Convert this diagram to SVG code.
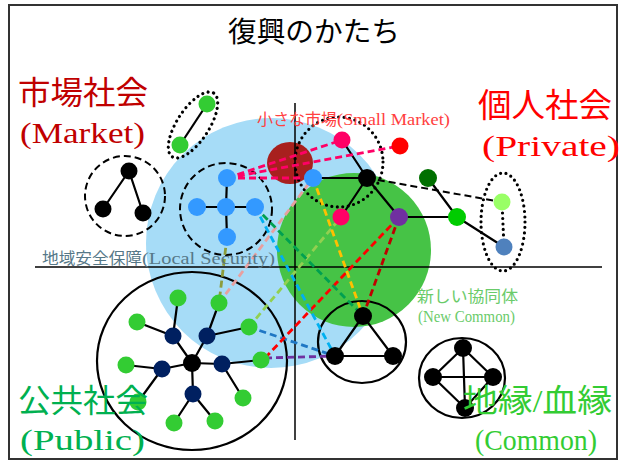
<svg xmlns="http://www.w3.org/2000/svg" width="622" height="461" viewBox="0 0 622 461">
<style>
.edge{stroke:#000;stroke-width:2.2;fill:none}
.dot{stroke:#000;stroke-width:3.2;fill:none;stroke-dasharray:0 5.5;stroke-linecap:round}
.dash{stroke:#000;stroke-width:2;fill:none;stroke-dasharray:7 4}
.ring{stroke:#000;stroke-width:2.2;fill:none}
.cd{stroke-width:2.8;fill:none;stroke-dasharray:7 4}
.jp{font-family:"Liberation Serif","Noto Sans CJK JP",serif}
.lm{font-family:"Liberation Serif","Noto Sans CJK JP",serif}
.js{font-family:"Noto Sans CJK JP","Liberation Sans",sans-serif}
</style>
<rect x="9" y="5" width="608" height="454" fill="#fff" stroke="#333" stroke-width="2"/>
<g id="areas">
<circle cx="271" cy="243" r="125" fill="#a6dcf7"/>
<circle cx="354" cy="250" r="77" fill="#46c346"/>
<ellipse cx="290" cy="163" rx="23" ry="21" fill="#a8201e"/>
</g>
<g id="axes">
<line x1="295" y1="103" x2="295" y2="440" stroke="#000" stroke-width="1.5"/>
<line x1="35" y1="267" x2="602" y2="267" stroke="#000" stroke-width="1.5"/>
</g>
<g id="outlines">
<ellipse cx="193" cy="125" rx="38" ry="16" transform="rotate(-57 193 125)" class="dot"/>
<circle cx="125" cy="196" r="40" class="dash"/>
<circle cx="226" cy="209" r="46" class="dash"/>
<ellipse cx="339" cy="162" rx="44" ry="45" class="dot"/>
<ellipse cx="503" cy="222" rx="22" ry="49" class="dot"/>
<ellipse cx="192" cy="361" rx="95" ry="89" class="ring"/>
<ellipse cx="362" cy="342" rx="44" ry="41" class="ring"/>
<ellipse cx="462" cy="378" rx="43" ry="40" class="ring"/>
</g>
<g id="connectors">
<path class="edge" d="M129 171L103 209M129 171L143 213"/>
<path class="edge" d="M180 145L207 104"/>
<path class="edge" d="M226 207L227 178M226 207L197 207M226 207L255 207M226 207L227 237"/>
<path class="edge" d="M342 140L367 178M313 178L367 178M367 178L341 217M367 178L399 217M399 217L457 217M428 178L457 217M457 217L504 247"/>
<path class="dot" d="M502 202L504 247"/>
<path class="dash" d="M367 178L502 202"/>
<path class="edge" d="M192 363L173 336M192 363L207 336M192 363L162 369M192 363L222 364M192 363L193 394M173 336L178 298M173 336L137 322M207 336L219 303M207 336L249 327M162 369L126 365M162 369L138 402M222 364L261 360M222 364L243 398M193 394L174 423M193 394L215 421"/>
<path class="edge" d="M363 316L335 356L393 356Z"/>
<path class="edge" d="M463 348L433 377L465 408L493 377Z M463 348L465 408M433 377L493 377"/>
<path class="cd" stroke="#ff0066" d="M227 178L342 140M227 178L400 146M227 178L313 178"/>
<path class="cd" stroke="#8c9c3c" d="M227 237L219 303"/>
<path class="cd" stroke="#e8a0a0" d="M219 303L313 178"/>
<path class="cd" stroke="#92d050" d="M249 327L341 217"/>
<path class="cd" stroke="#1f77c4" d="M249 327L335 356"/>
<path class="cd" stroke="#7030a0" d="M265 358L335 356"/>
<path class="cd" stroke="#ff0000" d="M265 358L399 217"/>
<path class="cd" stroke="#00b0f0" d="M255 207L335 356"/>
<path class="cd" stroke="#00a050" d="M255 207L363 316"/>
<path class="cd" stroke="#ffc000" d="M313 178L363 316"/>
<path class="cd" stroke="#c00000" d="M399 217L363 316"/>
</g>
<g id="market-nodes" fill="#000">
<circle cx="129" cy="171" r="8.5"/><circle cx="103" cy="209" r="8.5"/><circle cx="143" cy="213" r="8.5"/>
</g>
<g id="pair-nodes" fill="#33cc33">
<circle cx="180" cy="145" r="8.5"/><circle cx="207" cy="104" r="8.5"/>
</g>
<g id="local-nodes" fill="#3399ff">
<circle cx="227" cy="178" r="9"/><circle cx="226" cy="207" r="9"/><circle cx="197" cy="207" r="9"/><circle cx="255" cy="207" r="9"/><circle cx="227" cy="237" r="9"/>
</g>
<g id="small-market-nodes">
<circle cx="342" cy="140" r="8.5" fill="#ff0066"/>
<circle cx="400" cy="146" r="8.5" fill="#ff0000"/>
<circle cx="367" cy="178" r="9" fill="#000"/>
<circle cx="313" cy="178" r="9" fill="#3399ff"/>
<circle cx="341" cy="217" r="8.5" fill="#ff0066"/>
<circle cx="399" cy="217" r="9" fill="#7030a0"/>
</g>
<g id="private-nodes">
<circle cx="428" cy="178" r="9" fill="#007000"/>
<circle cx="457" cy="217" r="9" fill="#00cc00"/>
<circle cx="502" cy="202" r="8.5" fill="#99ff66"/>
<circle cx="504" cy="247" r="8.5" fill="#4f81bd"/>
</g>
<g id="public-nodes">
<circle cx="192" cy="363" r="9" fill="#000"/>
<g fill="#002060">
<circle cx="173" cy="336" r="8.5"/><circle cx="207" cy="336" r="8.5"/><circle cx="162" cy="369" r="8.5"/><circle cx="222" cy="364" r="8.5"/><circle cx="193" cy="394" r="8.5"/>
</g>
<g fill="#33cc33">
<circle cx="178" cy="298" r="8.5"/><circle cx="219" cy="303" r="8.5"/><circle cx="137" cy="322" r="8.5"/><circle cx="249" cy="327" r="8.5"/><circle cx="126" cy="365" r="8.5"/><circle cx="261" cy="360" r="8.5"/><circle cx="138" cy="402" r="8.5"/><circle cx="243" cy="398" r="8.5"/><circle cx="174" cy="423" r="8.5"/><circle cx="215" cy="421" r="8.5"/>
</g>
</g>
<g id="new-common-nodes" fill="#000">
<circle cx="363" cy="316" r="9"/><circle cx="335" cy="356" r="9"/><circle cx="393" cy="356" r="9"/>
</g>
<g id="common-nodes" fill="#000">
<circle cx="463" cy="348" r="9"/><circle cx="433" cy="377" r="9"/><circle cx="493" cy="377" r="9"/><circle cx="465" cy="408" r="9"/>
</g>
<g id="labels">
<text class="js" x="228" y="42" font-size="28" textLength="172" lengthAdjust="spacingAndGlyphs" fill="#000">復興のかたち</text>
<text class="jp" x="18" y="104" font-size="32" textLength="130" lengthAdjust="spacingAndGlyphs" fill="#c00000">市場社会</text>
<text class="lm" x="20" y="143" font-size="30" textLength="125" lengthAdjust="spacingAndGlyphs" fill="#c00000">(Market)</text>
<text class="jp" x="478" y="117" font-size="33" textLength="134" lengthAdjust="spacingAndGlyphs" fill="#ff0000">個人社会</text>
<text class="lm" x="482" y="156" font-size="30" textLength="138" lengthAdjust="spacingAndGlyphs" fill="#ff0000">(Private)</text>
<text class="jp" x="18" y="412" font-size="32" textLength="130" lengthAdjust="spacingAndGlyphs" fill="#00b050">公共社会</text>
<text class="lm" x="20" y="450" font-size="30" textLength="125" lengthAdjust="spacingAndGlyphs" fill="#00b050">(Public)</text>
<text class="jp" x="463" y="412" font-size="32" textLength="149" lengthAdjust="spacingAndGlyphs" fill="#33cc33">地縁/血縁</text>
<text class="lm" x="475" y="450" font-size="30" textLength="122" lengthAdjust="spacingAndGlyphs" fill="#33cc33">(Common)</text>
<g fill="#ff4040" font-size="16">
<text class="jp" x="257" y="125" textLength="80" lengthAdjust="spacingAndGlyphs">小さな市場</text>
<text class="lm" x="337" y="125" textLength="113" lengthAdjust="spacingAndGlyphs">(Small Market)</text>
</g>
<g fill="#567888" font-size="16">
<text class="jp" x="42" y="264" textLength="100" lengthAdjust="spacingAndGlyphs">地域安全保障</text>
<text class="lm" x="142" y="264" textLength="133" lengthAdjust="spacingAndGlyphs">(Local Security)</text>
</g>
<text class="jp" x="417" y="302" font-size="16" textLength="101" lengthAdjust="spacingAndGlyphs" fill="#6acb6a">新しい協同体</text>
<text class="lm" x="418" y="322" font-size="16" textLength="97" lengthAdjust="spacingAndGlyphs" fill="#6acb6a">(New Common)</text>
</g>
</svg>
